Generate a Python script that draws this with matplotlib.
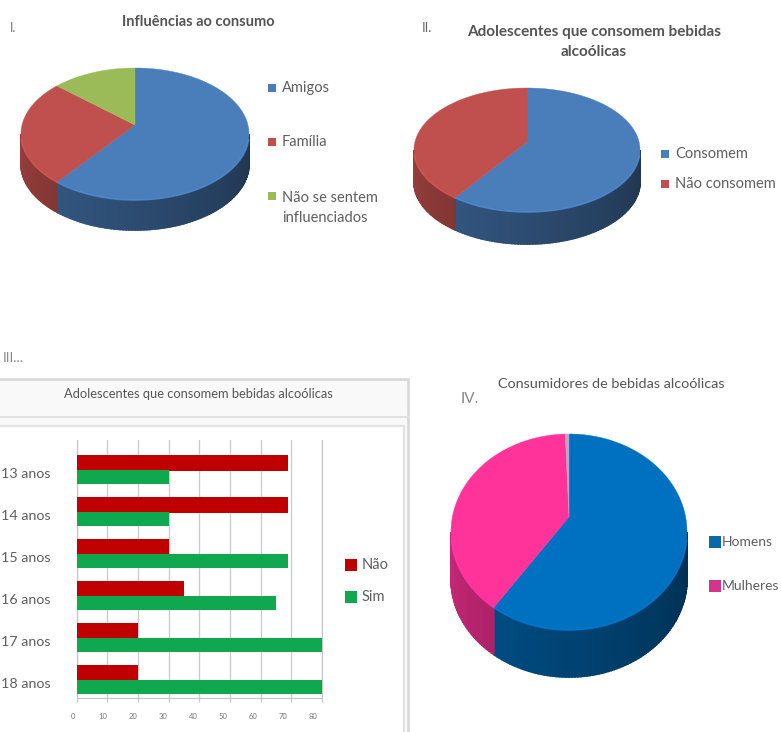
import matplotlib
matplotlib.use('Agg')
import matplotlib.pyplot as plt
from matplotlib.patches import Rectangle
import numpy as np

plt.rcParams['font.family'] = ['Lato', 'DejaVu Sans']

W, H = 781, 732
TEXT = '#5f5f5f'

# I
influencia_labels = ['Amigos', 'Família', 'Não se sentem\ninfluenciados']
influencia_vals = [62, 26, 12]
# II
adolescentes_labels = ['Consomem', 'Não consomem']
adolescentes_vals = [61, 39]
# III
idades = ['13 anos', '14 anos', '15 anos', '16 anos', '17 anos', '18 anos']
nao_vals = [69, 69, 30, 35, 20, 20]
sim_vals = [30, 30, 69, 65, 80, 80]
# IV
consumidores_labels = ['Homens', 'Mulheres']
consumidores_vals = [61, 38.5, 0.5]


def shade(color, f):
    return tuple(np.clip(np.array(matplotlib.colors.to_rgb(color)) * f, 0, 1))


def pie3d(ax, values, colors, cx, cy, rx, ry, depth, apex_dy):
    # angles run clockwise from the top of the ellipse
    edges = np.cumsum([0] + list(values)) / sum(values) * 360
    for val_i, color in enumerate(colors):
        a, b = edges[val_i], edges[val_i + 1]
        # side wall, only the front half shows
        lo, hi = max(a, 90), min(b, 270)
        for t in np.arange(lo, hi, 1.5):
            t2 = np.radians([t, min(t + 1.7, hi)])
            x = cx + rx * np.sin(t2)
            y = cy - ry * np.cos(t2)
            f = 0.42 + 0.36 * (t - 90) / 180
            ax.fill([x[0], x[1], x[1], x[0]],
                    [y[0], y[1], y[1] + depth, y[0] + depth],
                    color=shade(color, f), lw=1.2)
        # top face
        t = np.radians(np.linspace(a, b, 120))
        x = np.r_[cx, cx + rx * np.sin(t)]
        y = np.r_[cy + apex_dy, cy - ry * np.cos(t)]
        ax.fill(x, y, color=color, lw=0.3)
    # lighter rim along the front of the top face
    for val_i, color in enumerate(colors):
        lo, hi = max(edges[val_i], 95), min(edges[val_i + 1], 265)
        if hi > lo:
            t = np.radians(np.linspace(lo, hi, 80))
            ax.plot(cx + rx * np.sin(t), cy - ry * np.cos(t),
                    color=shade(color, 1.12), lw=1.2, alpha=0.7)


def legend_text(ax, x, y, label, color, size=10.5, ms=6, dx=10):
    ax.plot([x], [y], 's', color=color, ms=ms, mew=0)
    ax.text(x + dx, y, label, color=TEXT, fontsize=size, va='center')


fig = plt.figure(figsize=(W / 100, H / 100), dpi=100)

# overlay axes in image pixels for the pies, frames and loose text
ax = fig.add_axes([0, 0, 1, 1])
ax.set_xlim(0, W)
ax.set_ylim(H, 0)
ax.axis('off')

# I
pie3d(ax, influencia_vals, ['#4a7ebb', '#c0504d', '#9bbb59'], 135, 134, 114, 66, 30, -9)
ax.text(198, 22, 'Influências ao consumo', color='#555555', fontsize=10.5, fontweight='bold',
        ha='center', va='center')
ax.text(13, 28, 'I.', color='#777777', fontsize=9, va='center', ha='center')
legend_text(ax, 272, 88, influencia_labels[0], '#4a7ebb')
legend_text(ax, 272, 142, influencia_labels[1], '#c0504d')
ax.plot([272], [196], 's', color='#9bbb59', ms=6, mew=0)
ax.text(282, 208, influencia_labels[2], color=TEXT, fontsize=10.5, va='center', linespacing=1.5)

# II
pie3d(ax, adolescentes_vals, ['#4a7ebb', '#c0504d'], 527, 150, 113, 62, 32, -8)
ax.text(594, 42, 'Adolescentes que consomem bebidas\nalcoólicas', color='#555555', fontsize=11,
        fontweight='bold', ha='center', va='center', linespacing=1.6)
ax.text(422, 28, 'II.', color='#666666', fontsize=9.5, va='center')
legend_text(ax, 665, 154, adolescentes_labels[0], '#4a7ebb', ms=5.5)
legend_text(ax, 665, 184, adolescentes_labels[1], '#c0504d', ms=5.5)

# III frame
ax.text(3, 358, 'III...', color='#888888', fontsize=10, va='center')
ax.add_patch(Rectangle((-2, 379), 410, 360, fc='#f8f9f8', ec='#d6d6d6', lw=1.8))
ax.add_patch(Rectangle((-2, 426), 406, 310, fc='white', ec='#e2e2e2', lw=1.5))
ax.plot([0, 408], [417, 417], color='#e2e2e2', lw=1.5)
ax.text(198, 394, 'Adolescentes que consomem bebidas alcoólicas', color='#555555', fontsize=9.3,
        ha='center', va='center')
legend_text(ax, 351, 565, 'Não', '#c00000', ms=8, dx=11)
legend_text(ax, 351, 597, 'Sim', '#0fa84f', ms=8, dx=11)

# IV
pie3d(ax, consumidores_vals, ['#0070c0', '#ff3399', '#b9a7c9'], 569, 532, 118, 98, 47, -15)
ax.text(611, 384, 'Consumidores de bebidas alcoólicas', color='#555555', fontsize=10.4,
        ha='center', va='center')
ax.text(461, 399, 'IV.', color='#888888', fontsize=11, va='center')
legend_text(ax, 715, 542, consumidores_labels[0], '#0a6aa8', size=10, ms=8, dx=7)
legend_text(ax, 715, 586, consumidores_labels[1], '#d6338f', size=10, ms=8, dx=7)

# III bars, own axes placed so the categories land 42 px apart
x0, x1, y0, y1 = 76.7, 322, 440, 698
bx = fig.add_axes([x0 / W, 1 - y1 / H, (x1 - x0) / W, (y1 - y0) / H])
bx.patch.set_alpha(0)
pos = np.arange(len(idades))
bx.barh(pos - 0.24, nao_vals, height=0.38, color='#c00000', zorder=3)
bx.barh(pos + 0.09, sim_vals, height=0.34, color='#0fa84f', zorder=3)
bx.set_xlim(0, 80)
bx.set_ylim(5.36, -0.79)
bx.set_xticks(np.arange(0, 90, 10))
bx.set_yticks(pos)
bx.set_yticklabels(idades, fontsize=10.3, color=TEXT)
bx.set_xticklabels([])
bx.grid(axis='x', color='#cccccc', lw=1, zorder=0)
bx.tick_params(axis='y', length=0, pad=19)
bx.tick_params(axis='x', length=3, color='#cccccc')
bx.spines['top'].set_visible(False)
for side in ['left', 'right', 'bottom']:
    bx.spines[side].set_color('#c4c4c4')

# the value labels sit a little left of the gridlines in the original
lx = fig.add_axes([73 / W, 1 - y1 / H, 240 / W, 1 / H])
lx.patch.set_alpha(0)
lx.set_xlim(0, 80)
lx.set_yticks([])
lx.set_xticks(np.arange(0, 90, 10))
lx.set_xticklabels([str(v) for v in range(0, 90, 10)], fontsize=5.5, color='#777777')
lx.tick_params(axis='x', length=0, pad=11)
for side in lx.spines:
    lx.spines[side].set_visible(False)

fig.savefig('out.png', dpi=100)
